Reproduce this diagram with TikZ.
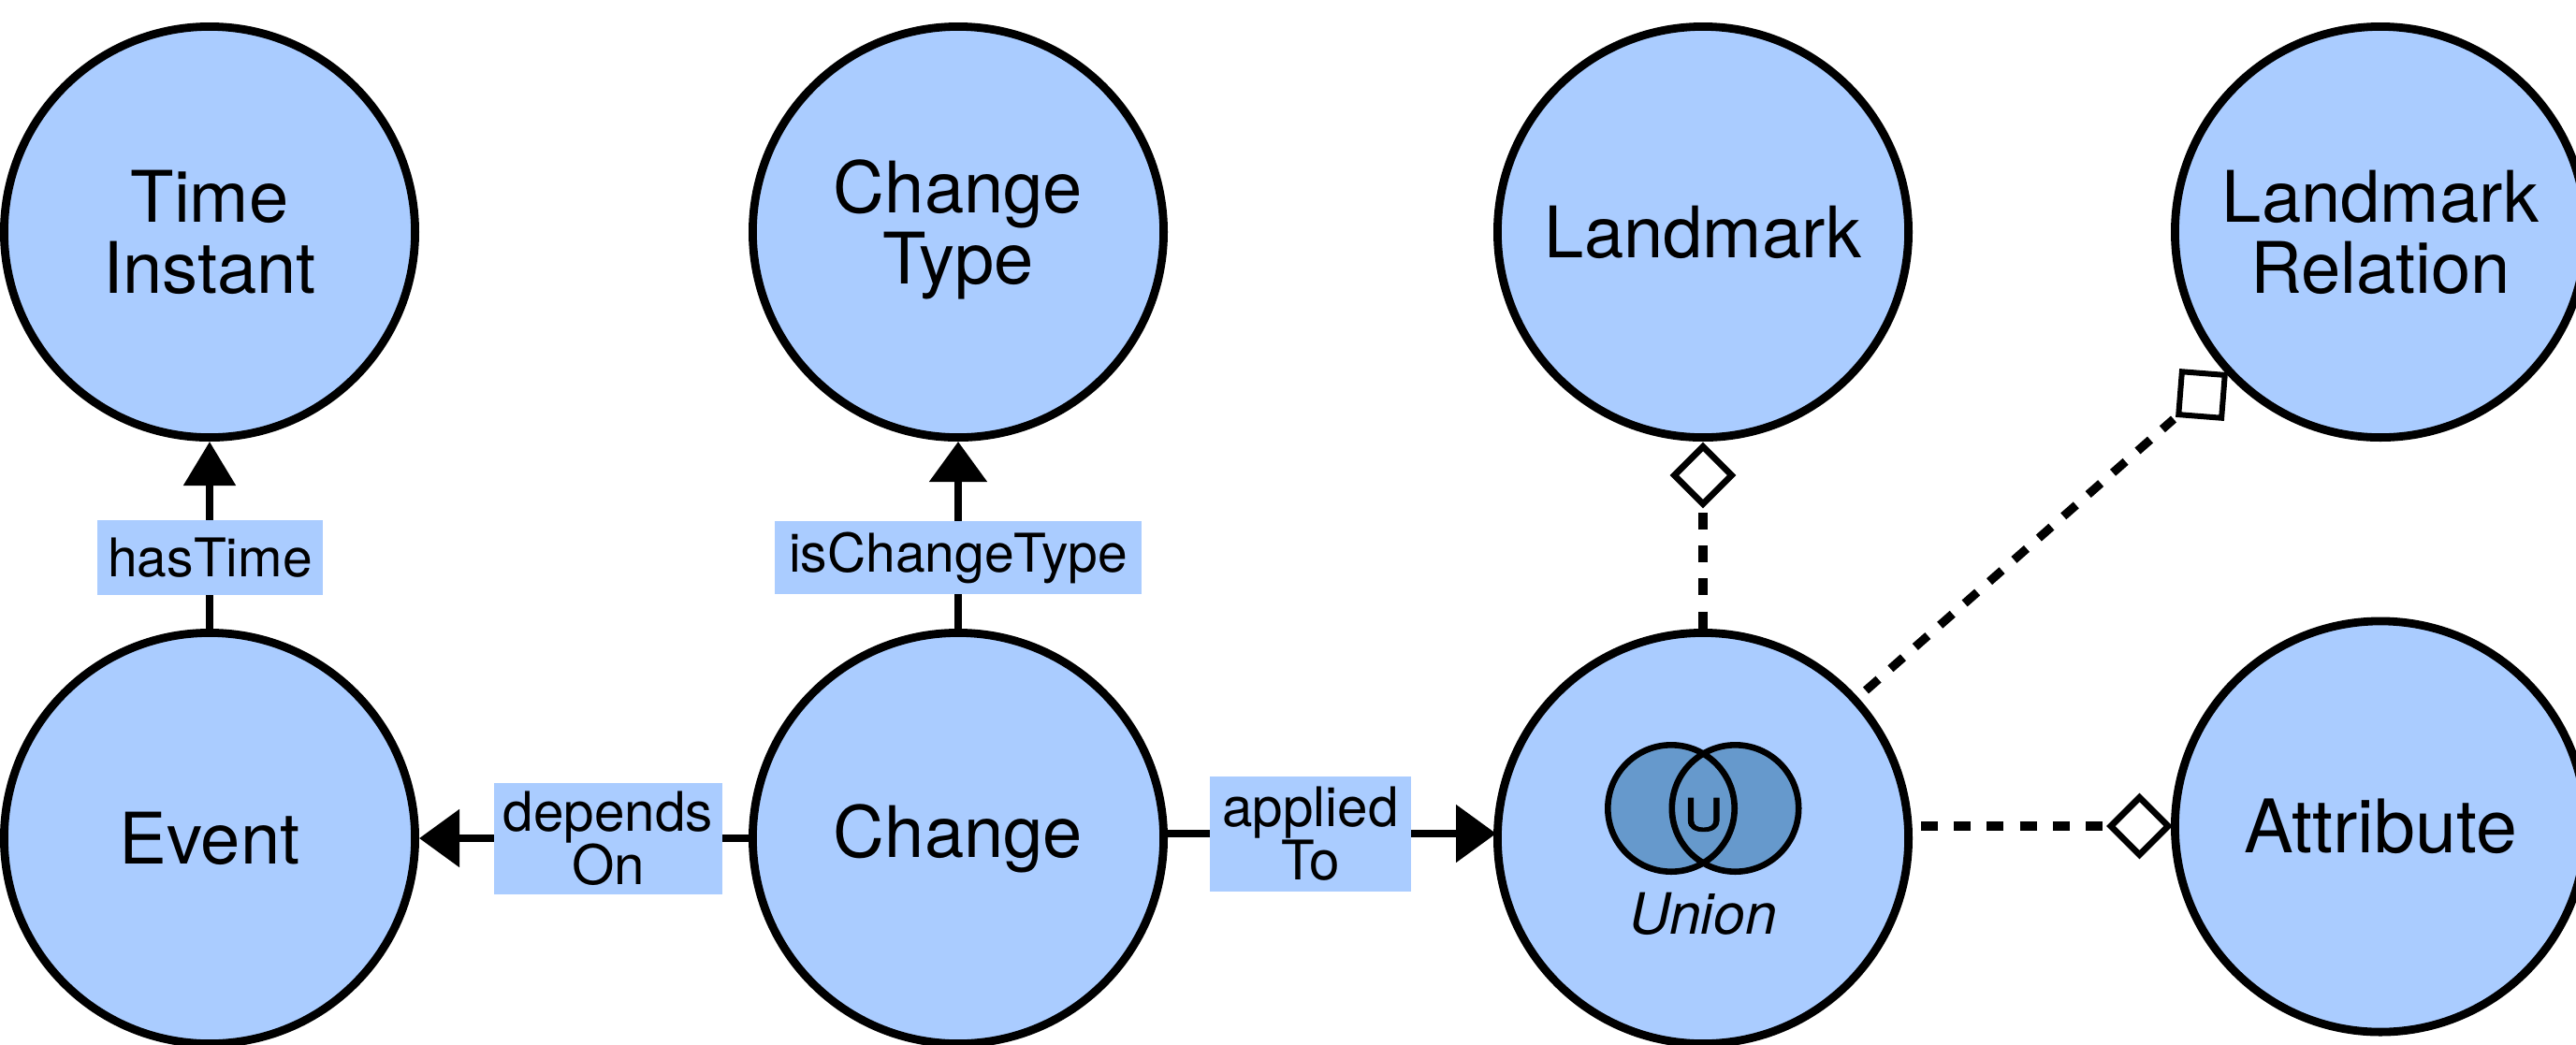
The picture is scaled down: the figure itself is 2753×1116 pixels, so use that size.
\documentclass[tikz,border=0pt]{standalone}
\usepackage{fontspec}
\usepackage{graphicx}
\setmainfont{TeX Gyre Heros}
\newfontfamily\ufont[FakeBold=1.5]{TeX Gyre Heros}
\usetikzlibrary{arrows.meta,shapes.geometric}
\definecolor{nodeblue}{HTML}{AACCFF}
\definecolor{vennblue}{HTML}{6699CC}
\tikzset{
  circ/.style={circle,draw=black,fill=nodeblue,line width=4.4pt,minimum size=219.6pt,inner sep=0pt,align=center,
    font=\fontsize{38}{38}\selectfont},
  lbl/.style={rectangle,fill=nodeblue,inner sep=0pt,align=center,font=\fontsize{28.5}{28.5}\selectfont},
  lblb/.style={lbl,font=\fontsize{29.2}{28.5}\selectfont},
  conn/.style={line width=4.3pt,draw=black},
  tipa/.style={-{Triangle[length=23.5pt,width=27pt]}},
  tipb/.style={-{Triangle[length=21.5pt,width=30pt]}},
  dash line/.style={line width=4.6pt,dash pattern=on 9pt off 8.6pt},
  dia/.style={diamond,draw=black,fill=white,line width=3.4pt,minimum width=32pt,minimum height=32pt,inner sep=0pt},
  sqr/.style={rectangle,draw=black,fill=white,line width=3pt,minimum size=23pt,inner sep=0pt,rotate=-4.5},
  venn/.style={circle,draw=black,line width=3.3pt,minimum size=67.7pt,inner sep=0pt},
}
\begin{document}
\begin{tikzpicture}[x=0.5pt,y=-0.5pt]
\clip (0,0) rectangle (2753,1116);
\fill[white] (0,0) rectangle (2753,1116);
% main circles
\node[circ] (time) at (224,248) {Time\\Instant};
\node[circ] (ctype) at (1024,248) {Change\\Type\rule[-11pt]{0pt}{0pt}};
\node[circ] (landmark) at (1820,248) {Landmark};
\node[circ] (rel) at (2544,248) {Landmark\\Relation};
\node[circ] (event) at (224,896) {Event};
\node[circ] (change) at (1024,896) {Change};
\node[circ] (union) at (1820,896) {};
\node[circ,font=\fontsize{39.5}{38}\selectfont] (attr) at (2544,883.5) {Attribute};
% aggregation markers
\node[dia] (dLand) at (1820,508) {};
\node[dia] (dAttr) at (2286.5,883) {};
\node[sqr] (sRel) at (2353,422) {};
% free ends
\coordinate (uTop) at (1820,548);
\coordinate (uAttr) at (2053,883);
\coordinate (uRel) at (1994,738);
\coordinate (rEnd) at (2323,448);
\coordinate (aEnd) at (2247,883);
% connectors
\draw[conn,tipa] (event.north) -- (time.south);
\draw[conn,tipb] (change.north) -- (ctype.south);
\draw[conn,tipb] (change.west) -- (event.east);
\draw[conn,tipb,shorten >=-1.5pt] ([yshift=2.5pt]change.east) -- ([yshift=2.5pt]union.west);
\draw[dash line] (uTop) -- (union.north);
\draw[dash line] (uAttr) -- (aEnd);
\draw[dash line] (uRel) -- (rEnd);
% labels
\node[lbl,minimum width=120.5pt,minimum height=40pt] (lTime) at (224.5,596) {hasTime};
\node[lbl,minimum width=196pt,minimum height=39pt] (lType) at (1024,596) {isChangeType};
\node[lblb,minimum width=122pt,minimum height=59.5pt] (lDep) at (650,896.5) {depends\\On};
\node[lblb,minimum width=107.5pt,minimum height=61.5pt] (lApp) at (1400.5,891.5) {applied\\To};
% venn icon
\fill[vennblue] (1786,864) circle[radius=68];
\fill[vennblue] (1854.5,864) circle[radius=68];
\node[venn] (vL) at (1786,864) {};
\node[venn] (vR) at (1854.5,864) {};
\node[anchor=base,inner sep=0pt,font=\ufont\fontsize{24}{24}\selectfont] (uGlyph) at (1820.5,888) {\scalebox{1.22}[1]{U}};
\node[anchor=base,inner sep=0pt,font=\fontsize{30.4}{30}\selectfont\itshape] (uName) at (1820,998) {Union};
\end{tikzpicture}
\end{document}
